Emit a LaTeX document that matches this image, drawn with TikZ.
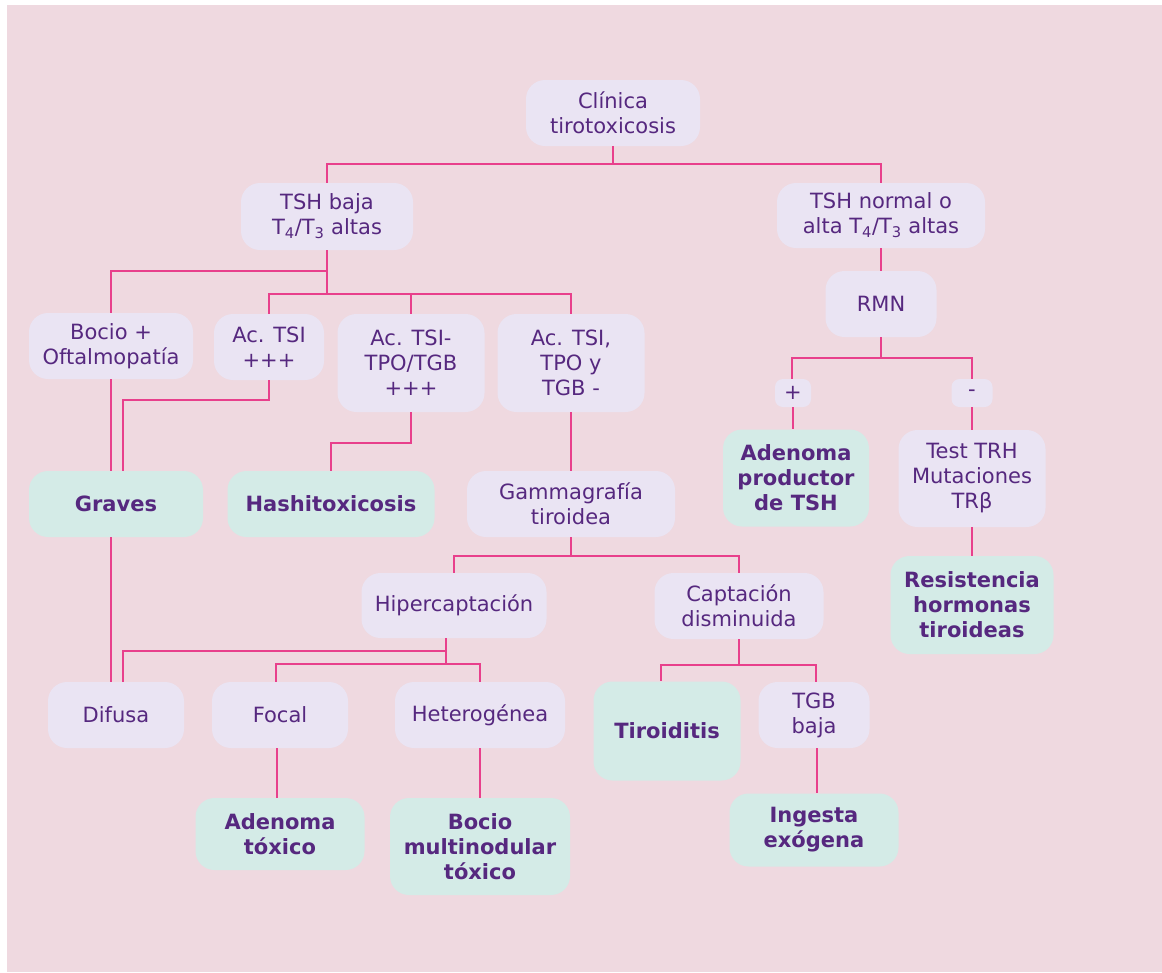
\documentclass[tikz,border=0pt]{standalone}
\usepackage{fontspec}
\setmainfont{DejaVu Sans}
\usetikzlibrary{calc}
\definecolor{bgpink}{HTML}{EFD9E0}
\definecolor{lav}{HTML}{EAE4F3}
\definecolor{mint}{HTML}{D4EBE7}
\definecolor{txt}{HTML}{56287F}
\definecolor{wire}{HTML}{E8408C}
\tikzset{
  box/.style={rectangle, rounded corners=19pt, fill=lav, text=txt, inner sep=0pt, align=center,
    font=\fontsize{21}{25}\selectfont},
  endbox/.style={box, fill=mint, font=\fontsize{21}{25}\selectfont\bfseries},
  sz/.style n args={2}{minimum width=#1pt, minimum height=#2pt},
  link/.style={draw=wire, line width=2pt},
}
\begin{document}
\begin{tikzpicture}[x=1pt,y=-1pt]
\useasboundingbox (0,0) rectangle (1162,972);
\fill[white] (0,0) rectangle (1162,972);
\fill[bgpink] (7,5) rectangle (1162,972);

\node[box, sz={174}{66}] (clin) at (613,113) {Clínica\\tirotoxicosis};
\node[box, sz={172}{67}] (tshb) at (327,216.5) {TSH baja\\T\textsubscript{4}/T\textsubscript{3} altas};
\node[box, sz={208}{65}] (tshn) at (881,215.5) {TSH normal o\\alta T\textsubscript{4}/T\textsubscript{3} altas};
\node[box, sz={111}{66}] (rmn) at (881,304) {RMN};
\node[box, sz={164}{66}] (bocio) at (111,346) {Bocio +\\Oftalmopatía};
\node[box, sz={110}{66}] (actsi) at (269,347) {Ac. TSI\\+++};
\node[box, sz={147}{98}] (actpo) at (411,363) {Ac. TSI-\\TPO/TGB\\+++};
\node[box, sz={147}{98}] (acneg) at (571,363) {Ac. TSI,\\TPO y\\TGB -};
\node[endbox, sz={174}{66}] (graves) at (116,504) {Graves};
\node[endbox, sz={207}{66}] (hashi) at (331,504) {Hashitoxicosis};
\node[box, sz={208}{66}] (gamma) at (571,504) {Gammagrafía\\tiroidea};
\node[box, sz={36}{28}, rounded corners=8pt] (plus) at (793,393) {+};
\node[box, sz={41}{28}, rounded corners=8pt] (minus) at (972,393) {-};
\node[endbox, sz={146}{97}] (adtsh) at (796,478) {Adenoma\\productor\\de TSH};
\node[box, sz={147}{97}] (test) at (972,478.5) {Test TRH\\Mutaciones\\TRβ};
\node[endbox, sz={163}{98}] (resis) at (972,605) {Resistencia\\hormonas\\tiroideas};
\node[box, sz={185}{65}] (hiper) at (454,605.5) {Hipercaptación};
\node[box, sz={169}{66}] (capt) at (739,606) {Captación\\disminuida};
\node[box, sz={136}{66}] (difusa) at (116,715) {Difusa};
\node[box, sz={136}{66}] (focal) at (280,715) {Focal};
\node[box, sz={170}{66}] (hetero) at (480,715) {Heterogénea};
\node[endbox, sz={147}{99}] (tiro) at (667,731) {Tiroiditis};
\node[box, sz={111}{66}] (tgbb) at (814,715) {TGB\\baja};
\node[endbox, sz={169}{72}] (adtox) at (280,834) {Adenoma\\tóxico};
\node[endbox, sz={180}{97}] (bmt) at (480,846.5) {Bocio\\multinodular\\tóxico};
\node[endbox, sz={169}{73}] (ingesta) at (814,830) {Ingesta\\exógena};

% connectors
\draw[link] (clin.south) -- ++(0,18) -| (tshb.north);
\draw[link] (clin.south) -- ++(0,18) -| (tshn.north);
\draw[link] (tshb.south) -- ++(0,21) -| (bocio.north);
\draw[link] (tshb.south) -- ++(0,43.5) -| (actsi.north);
\draw[link] (tshb.south) -- ++(0,43.5) -| (actpo.north);
\draw[link] (tshb.south) -- ++(0,43.5) -| (acneg.north);
\draw[link] (bocio.south) -- (bocio.south |- graves.north);
\draw[link] (bocio.south |- graves.south) -- (bocio.south |- difusa.north);
\draw[link] (actsi.south) -- ++(0,20) -| ($(graves.north)+(7,0)$);
\draw[link] (actpo.south) -- ++(0,30.7) -| (hashi.north);
\draw[link] (acneg.south) -- (gamma.north);
\draw[link] (gamma.south) -- ++(0,19) -| (hiper.north);
\draw[link] (gamma.south) -- ++(0,19) -| (capt.north);
\draw[link] ($(hiper.south)+(-8,0)$) -- ++(0,13) -| ($(difusa.north)+(7,0)$);
\draw[link] ($(hiper.south)+(-8,0)$) -- ++(0,26) -| ($(focal.north)+(-4,0)$);
\draw[link] ($(hiper.south)+(-8,0)$) -- ++(0,26) -| (hetero.north);
\draw[link] ($(focal.south)+(-3,0)$) -- ($(adtox.north)+(-3,0)$);
\draw[link] (hetero.south) -- (bmt.north);
\draw[link] (capt.south) -- ++(0,26) -| ($(tiro.north)+(-6,0)$);
\draw[link] (capt.south) -- ++(0,26) -| ($(tgbb.north)+(2,0)$);
\draw[link] ($(tgbb.south)+(3,0)$) -- ($(ingesta.north)+(3,0)$);
\draw[link] (tshn.south) -- (rmn.north);
\draw[link] (rmn.south) -- ++(0,21) -| ($(plus.north)+(-1,0)$);
\draw[link] (rmn.south) -- ++(0,21) -| (minus.north);
\draw[link] (plus.south) -- (plus.south |- adtsh.north);
\draw[link] (minus.south) -- (test.north);
\draw[link] (test.south) -- (resis.north);
\end{tikzpicture}
\end{document}
